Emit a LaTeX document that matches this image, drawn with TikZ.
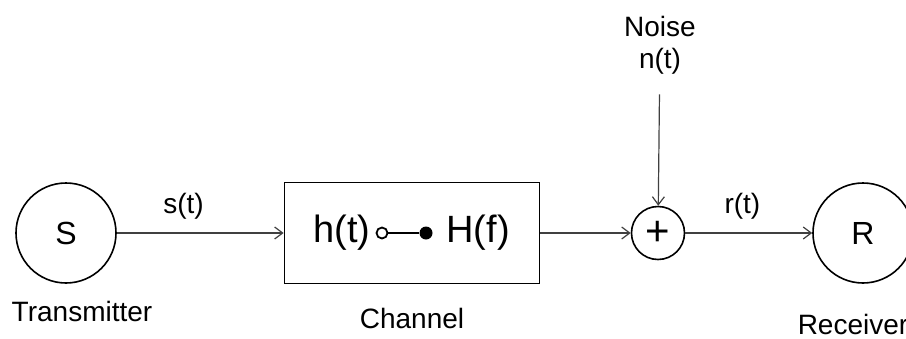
\documentclass[tikz,border=0pt]{standalone}
\usepackage{fontspec}
\setmainfont{Liberation Sans}
\usetikzlibrary{arrows.meta,positioning}

\begin{document}
\begin{tikzpicture}[
  x=0.5pt,y=-0.5pt,
  on grid,
  >={Straight Barb[length=4pt,width=6pt]},
  signal/.style={->,draw=black!75,line width=0.6pt},
  station/.style={circle,draw,line width=0.8pt,minimum size=50pt,inner sep=0pt,
    font=\fontsize{16}{19}\selectfont},
  adder/.style={circle,draw,line width=0.8pt,minimum size=26.5pt,inner sep=0pt,
    font=\fontsize{21}{22}\selectfont},
  block/.style={rectangle,draw,line width=0.9pt,minimum width=127.5pt,minimum height=50.5pt},
  caption/.style={font=\fontsize{14}{16}\selectfont},
  every label/.style={caption}]
  \useasboundingbox (0,0) rectangle (906,338);
  \clip (0,0) rectangle (906,338);
  % S-transmitter c-channel a-adder R-receiver
  \node [station] (S) at (66,233) {S};
  \node [block]   (chan) [right=173pt of S] {};
  \node [adder]   (sum)  [right=123pt of chan] {+};
  \node [station] (R)    [right=102.5pt of sum] {R};
  \node [caption] (tx)   [below=39pt of S,xshift=8pt] {Transmitter};
  \node [caption] (cap)  [below=42.5pt of chan] {Channel};
  \node [caption] (rx)   [below=45.5pt of R,xshift=-5pt] {Receiver};
  \node [caption,align=center,inner ysep=7pt] (noise) [above=94pt of sum,xshift=1pt]
    {Noise\\n(t)};
  % transform pair inside the channel box
  \node [font=\fontsize{19}{22}\selectfont] (ht) [left=35pt of chan] {h(t)};
  \node [font=\fontsize{19}{22}\selectfont] (Hf) [right=33pt of chan] {H(f)};
  \node [circle,draw,line width=0.9pt,minimum size=5.5pt,inner sep=0pt] (to)
    [left=15pt of chan] {};
  \node [circle,fill,minimum size=6.5pt,inner sep=0pt] (fo)
    [right=7pt of chan] {};
  \draw [line width=0.8pt] (to) -- (fo);
  % signal path
  \draw [signal] (S) -- node [caption,pos=0.4,above=3pt] {s(t)} (chan);
  \draw [signal] (chan) -- (sum);
  \draw [signal] (sum) -- node [caption,pos=0.45,above=3pt] {r(t)} (R);
  \draw [signal,shorten <=3pt] (noise) -- (sum);
\end{tikzpicture}
\end{document}
